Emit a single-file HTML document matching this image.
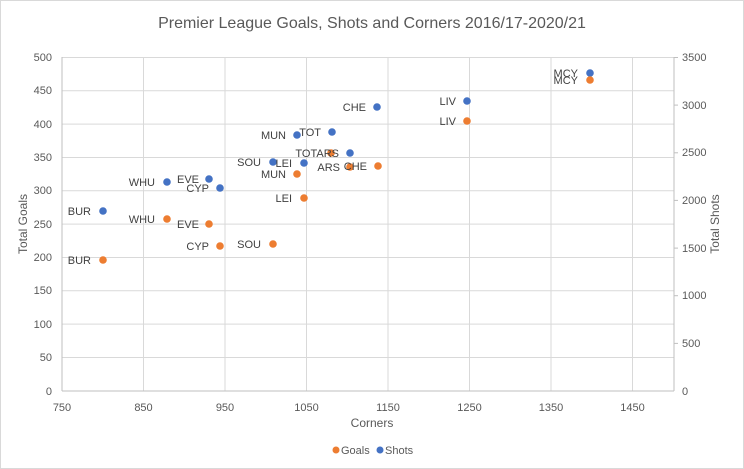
<!DOCTYPE html>
<html><head><meta charset="utf-8"><style>
body{margin:0;background:#fff}
svg{display:block;font-family:"Liberation Sans",sans-serif}
</style></head><body>
<svg width="744" height="469" viewBox="0 0 744 469">
<rect x="0.5" y="0.5" width="743" height="468" fill="#fff" stroke="#d9d9d9"/>
<text x="372" y="28" text-anchor="middle" font-size="16" fill="#595959">Premier League Goals, Shots and Corners 2016/17-2020/21</text>
<g stroke="#d9d9d9" stroke-width="1">
<line x1="62" y1="57.5" x2="674" y2="57.5"/><line x1="62" y1="90.8" x2="674" y2="90.8"/><line x1="62" y1="124.1" x2="674" y2="124.1"/><line x1="62" y1="157.5" x2="674" y2="157.5"/><line x1="62" y1="190.8" x2="674" y2="190.8"/><line x1="62" y1="224.1" x2="674" y2="224.1"/><line x1="62" y1="257.5" x2="674" y2="257.5"/><line x1="62" y1="290.8" x2="674" y2="290.8"/><line x1="62" y1="324.1" x2="674" y2="324.1"/><line x1="62" y1="357.5" x2="674" y2="357.5"/>
<line x1="143.5" y1="57" x2="143.5" y2="391"/><line x1="225" y1="57" x2="225" y2="391"/><line x1="306.5" y1="57" x2="306.5" y2="391"/><line x1="388" y1="57" x2="388" y2="391"/><line x1="469.5" y1="57" x2="469.5" y2="391"/><line x1="551" y1="57" x2="551" y2="391"/><line x1="632.5" y1="57" x2="632.5" y2="391"/>
<line x1="62" y1="391" x2="674" y2="391" stroke="#bfbfbf"/>
<line x1="62" y1="57" x2="62" y2="391" stroke="#bfbfbf"/>
<line x1="674" y1="57" x2="674" y2="391" stroke="#bfbfbf"/>
</g>
<g stroke="#bfbfbf"><line x1="674" y1="57.5" x2="678" y2="57.5"/><line x1="674" y1="105.1" x2="678" y2="105.1"/><line x1="674" y1="152.8" x2="678" y2="152.8"/><line x1="674" y1="200.4" x2="678" y2="200.4"/><line x1="674" y1="248.1" x2="678" y2="248.1"/><line x1="674" y1="295.7" x2="678" y2="295.7"/><line x1="674" y1="343.4" x2="678" y2="343.4"/></g>
<g font-size="11" fill="#595959" text-anchor="end">
<text x="52" y="61">500</text><text x="52" y="94">450</text><text x="52" y="128">400</text><text x="52" y="161">350</text><text x="52" y="194">300</text><text x="52" y="228">250</text><text x="52" y="261">200</text><text x="52" y="294">150</text><text x="52" y="328">100</text><text x="52" y="361">50</text><text x="52" y="395">0</text>
</g>
<g font-size="11" fill="#595959">
<text x="682" y="61">3500</text><text x="682" y="109">3000</text><text x="682" y="156">2500</text><text x="682" y="204">2000</text><text x="682" y="252">1500</text><text x="682" y="299">1000</text><text x="682" y="347">500</text><text x="682" y="395">0</text>
</g>
<g font-size="11" fill="#595959" text-anchor="middle">
<text x="62" y="411">750</text><text x="143.5" y="411">850</text><text x="225" y="411">950</text><text x="306.5" y="411">1050</text><text x="388" y="411">1150</text><text x="469.5" y="411">1250</text><text x="551" y="411">1350</text><text x="632.5" y="411">1450</text>
<text x="372" y="427" font-size="12">Corners</text>
<text transform="translate(27,224) rotate(-90)" font-size="12">Total Goals</text>
<text transform="translate(719,224) rotate(-90)" font-size="12">Total Shots</text>
</g>
<g fill="#4472c4">
<circle cx="103" cy="211" r="3.8"/><circle cx="167" cy="182" r="3.8"/><circle cx="209" cy="179" r="3.8"/><circle cx="220" cy="188" r="3.8"/><circle cx="273" cy="162" r="3.8"/><circle cx="304" cy="163" r="3.8"/><circle cx="297" cy="135" r="3.8"/><circle cx="332" cy="132" r="3.8"/><circle cx="350" cy="153" r="3.8"/><circle cx="377" cy="107" r="3.8"/><circle cx="467" cy="101" r="3.8"/><circle cx="590" cy="73" r="3.8"/>
</g>
<g fill="#ed7d31">
<circle cx="103" cy="260" r="3.8"/><circle cx="167" cy="219" r="3.8"/><circle cx="209" cy="224" r="3.8"/><circle cx="220" cy="246" r="3.8"/><circle cx="273" cy="244" r="3.8"/><circle cx="304" cy="198" r="3.8"/><circle cx="297" cy="174" r="3.8"/><circle cx="331" cy="153" r="3.8"/><circle cx="350" cy="167" r="3.8"/><circle cx="378" cy="166" r="3.8"/><circle cx="467" cy="121" r="3.8"/><circle cx="590" cy="80" r="3.8"/>
</g>
<g font-size="11" fill="#404040" text-anchor="end">
<text x="91" y="215">BUR</text><text x="155" y="186">WHU</text><text x="199" y="183">EVE</text><text x="209" y="192">CYP</text><text x="261" y="166">SOU</text><text x="292" y="167">LEI</text><text x="286" y="139">MUN</text><text x="321" y="136">TOT</text><text x="339" y="157">TOTARS</text><text x="366" y="111">CHE</text><text x="456" y="105">LIV</text><text x="578" y="77">MCY</text>
<text x="91" y="264">BUR</text><text x="155" y="223">WHU</text><text x="199" y="228">EVE</text><text x="209" y="250">CYP</text><text x="261" y="248">SOU</text><text x="292" y="202">LEI</text><text x="286" y="178">MUN</text><text x="340" y="171">ARS</text><text x="367" y="170">CHE</text><text x="456" y="125">LIV</text><text x="578" y="84">MCY</text>
</g>
<circle cx="336" cy="450" r="3.5" fill="#ed7d31"/><text x="341" y="454" font-size="11" fill="#595959">Goals</text>
<circle cx="380" cy="450" r="3.5" fill="#4472c4"/><text x="385" y="454" font-size="11" fill="#595959">Shots</text>
</svg>
</body></html>
